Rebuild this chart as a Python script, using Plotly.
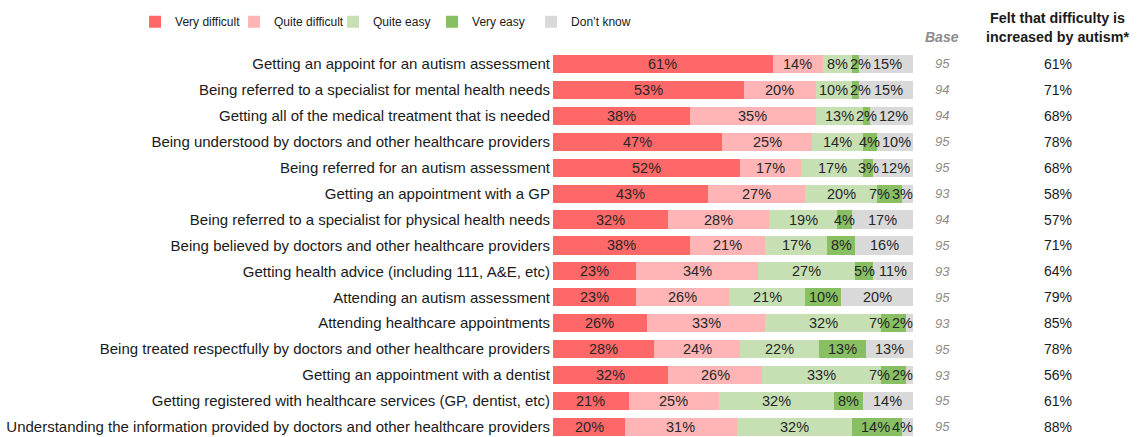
import plotly.graph_objects as go

categories = [
    "Getting an appoint for an autism assessment",
    "Being referred to a specialist for mental health needs",
    "Getting all of the medical treatment that is needed",
    "Being understood by doctors and other healthcare providers",
    "Being referred for an autism assessment",
    "Getting an appointment with a GP",
    "Being referred to a specialist for physical health needs",
    "Being believed by doctors and other healthcare providers",
    "Getting health advice (including 111, A&E, etc)",
    "Attending an autism assessment",
    "Attending healthcare appointments",
    "Being treated respectfully by doctors and other healthcare providers",
    "Getting an appointment with a dentist",
    "Getting registered with healthcare services (GP, dentist, etc)",
    "Understanding the information provided by doctors and other healthcare providers",
]

very_difficult = [61, 53, 38, 47, 52, 43, 32, 38, 23, 23, 26, 28, 32, 21, 20]
quite_difficult = [14, 20, 35, 25, 17, 27, 28, 21, 34, 26, 33, 24, 26, 25, 31]
quite_easy = [8, 10, 13, 14, 17, 20, 19, 17, 27, 21, 32, 22, 33, 32, 32]
very_easy = [2, 2, 2, 4, 3, 7, 4, 8, 5, 10, 7, 13, 7, 8, 14]
dont_know = [15, 15, 12, 10, 12, 3, 17, 16, 11, 20, 2, 13, 2, 14, 4]

base = [95, 94, 94, 95, 95, 93, 94, 95, 93, 95, 93, 95, 93, 95, 95]
increased_by_autism = [61, 71, 68, 78, 68, 58, 57, 71, 64, 79, 85, 78, 56, 61, 88]

series = [
    ("Very difficult", very_difficult, "#FF6868"),
    ("Quite difficult", quite_difficult, "#FFB5B5"),
    ("Quite easy", quite_easy, "#C6E0B4"),
    ("Very easy", very_easy, "#88BF63"),
    ("Don\u2019t know", dont_know, "#D9D9D9"),
]

FONT = "Liberation Sans, Arial, sans-serif"
LABEL_SIZE = 14.5
PX_PER_UNIT = 3.6  # 360 px plot width / 100 %


def label_width_units(txt):
    # approximate Arial width: digits 0.556em, % 0.889em
    px = sum(0.556 if ch.isdigit() else 0.889 for ch in txt) * LABEL_SIZE
    return px / PX_PER_UNIT


fig = go.Figure()
for name, vals, color in series:
    fig.add_trace(go.Bar(
        y=categories, x=vals, name=name, orientation="h",
        marker=dict(color=color, line=dict(width=0)),
        textposition="none", hoverinfo="skip",
    ))

# spacer entry so the last legend label is not clipped
fig.add_trace(go.Bar(y=[None], x=[None], name="", orientation="h",
                     marker=dict(color="rgba(0,0,0,0)", line=dict(width=0, color="rgba(0,0,0,0)")),
                     showlegend=True, hoverinfo="skip"))

annotations = []
gap = 0.6
for i, cat in enumerate(categories):
    vals = [s[1][i] for s in series]
    texts = [f"{v}%" for v in vals]
    widths = [label_width_units(t) for t in texts]
    centers = []
    c0 = 0
    for v in vals:
        centers.append(c0 + v / 2)
        c0 += v
    # push overlapping labels to the right
    for k in range(1, len(centers)):
        lim = centers[k - 1] + widths[k - 1] / 2 + gap + widths[k] / 2
        if centers[k] < lim:
            centers[k] = lim
    # keep the last label inside the bar, pushing others left if needed
    end = min(c0, 100)
    if centers[-1] + widths[-1] / 2 > end:
        centers[-1] = end - widths[-1] / 2
    for k in range(len(centers) - 2, -1, -1):
        lim = centers[k + 1] - widths[k + 1] / 2 - gap - widths[k] / 2
        if centers[k] > lim:
            centers[k] = lim
    for t, c in zip(texts, centers):
        annotations.append(dict(x=c, xref="x", y=cat, yref="y", text=t,
                                showarrow=False, xanchor="center", yanchor="middle",
                                font=dict(family=FONT, size=LABEL_SIZE, color="#262626")))

for cat, b, inc in zip(categories, base, increased_by_autism):
    annotations.append(dict(x=1.0806, xref="paper", y=cat, yref="y", text=f"<i>{b}</i>",
                            showarrow=False, xanchor="center",
                            font=dict(family=FONT, size=13, color="#8C8C8C")))
    annotations.append(dict(x=1.4014, xref="paper", y=cat, yref="y", text=f"{inc}%",
                            showarrow=False, xanchor="center",
                            font=dict(family=FONT, size=14, color="#1A1A1A")))
annotations.append(dict(x=1.0806, xref="paper", y=1.036, yref="paper", text="<b><i>Base</i></b>",
                        showarrow=False, xanchor="center", yanchor="middle",
                        font=dict(family=FONT, size=14, color="#8C8C8C")))
annotations.append(dict(x=1.4014, xref="paper", y=1.062, yref="paper",
                        text="<b>Felt that difficulty is<br>increased by autism*</b>",
                        showarrow=False, xanchor="center", yanchor="middle",
                        font=dict(family=FONT, size=14.3, color="#1A1A1A")))

fig.update_layout(
    width=1137, height=437,
    margin=dict(l=553, r=224, t=51, b=0),
    barmode="stack", bargap=0.3,
    paper_bgcolor="white", plot_bgcolor="white",
    font=dict(family=FONT, size=13, color="#1A1A1A"),
    legend=dict(orientation="h", x=-1.161, xanchor="left", y=1.076, yanchor="middle",
                entrywidth=54, entrywidthmode="pixels", traceorder="normal",
                font=dict(family=FONT, size=12, color="#1A1A1A"), bgcolor="rgba(0,0,0,0)"),
    annotations=annotations,
    showlegend=True,
)
fig.update_xaxes(range=[0, 100], visible=False, fixedrange=True)
fig.update_yaxes(categoryorder="array", categoryarray=categories,
                 range=[14.39, -0.5], ticks="", showline=False, showgrid=False,
                 tickfont=dict(family=FONT, size=15, color="#1A1A1A"), ticklabelstandoff=2)

fig.write_html("out.html", config={"displayModeBar": False},
               post_script="document.body.style.margin='0';document.body.style.overflow='hidden';")
